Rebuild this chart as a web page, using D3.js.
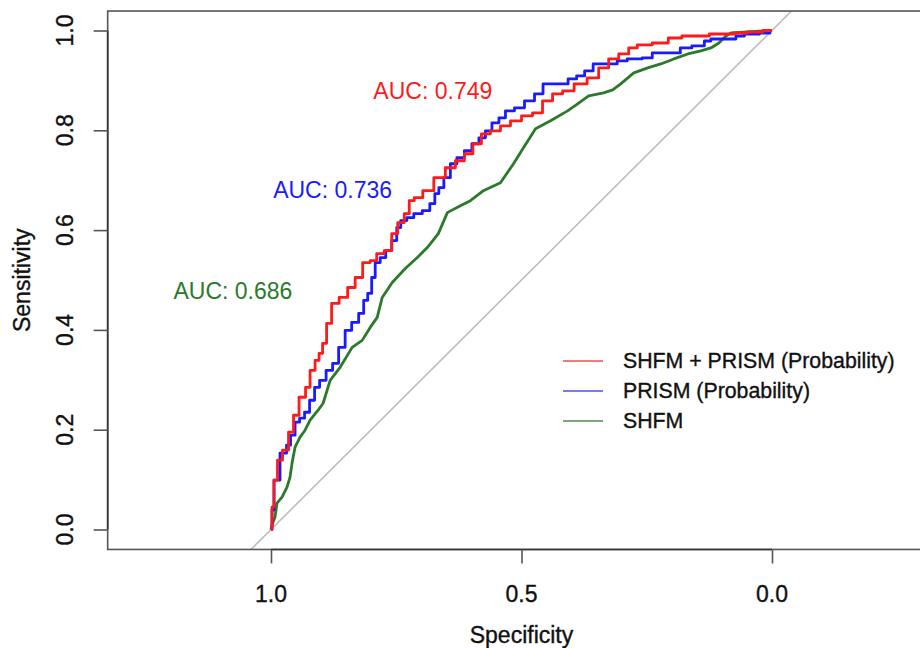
<!DOCTYPE html>
<html>
<head>
<meta charset="utf-8">
<script src="https://cdn.jsdelivr.net/npm/d3@7"></script>
<style>
  html, body { margin: 0; padding: 0; background: #fff; }
  svg { display: block; font-family: "Liberation Sans", Arial, sans-serif; }
</style>
</head>
<body>
<svg id="chart" width="920" height="648"></svg>
<script>
// ---- Data (specificity, sensitivity) ----
const seriesNames = ["SHFM + PRISM (Probability)", "PRISM (Probability)", "SHFM"];
const seriesColors = ["#ff1a1a", "#1a1aff", "#2b7a2b"];
const legendColors = ["#f27a7a", "#7a7af2", "#7aa87a"];

const redSpec = [1.000,0.996,0.992,0.982,0.972,0.958,0.952,0.936,0.926,0.918,0.906,0.902,0.892,0.886,0.872,0.856,0.838,0.826,0.808,0.796,0.782,0.766,0.752,0.742,0.726,0.722,0.706,0.688,0.662,0.642,0.622,0.606,0.588,0.572,0.552,0.532,0.512,0.488,0.468,0.448,0.428,0.408,0.382,0.356,0.336,0.316,0.296,0.276,0.262,0.216,0.198,0.162,0.088,0.062,0.036,0.000];
const redSens = [0.000,0.045,0.099,0.139,0.159,0.195,0.229,0.265,0.285,0.319,0.339,0.353,0.373,0.413,0.453,0.465,0.485,0.505,0.535,0.539,0.553,0.559,0.593,0.615,0.633,0.659,0.665,0.679,0.705,0.725,0.739,0.753,0.773,0.793,0.799,0.809,0.819,0.829,0.835,0.859,0.873,0.879,0.893,0.905,0.925,0.943,0.953,0.965,0.971,0.975,0.985,0.989,0.993,0.995,0.997,1.000];

const blueSpec = [1.000,0.996,0.992,0.972,0.966,0.956,0.948,0.938,0.928,0.918,0.908,0.898,0.882,0.872,0.858,0.846,0.832,0.818,0.812,0.802,0.796,0.788,0.776,0.766,0.752,0.746,0.736,0.722,0.708,0.688,0.678,0.668,0.662,0.648,0.636,0.622,0.606,0.592,0.578,0.566,0.552,0.538,0.526,0.502,0.486,0.462,0.452,0.416,0.398,0.382,0.366,0.348,0.316,0.302,0.276,0.242,0.236,0.188,0.178,0.142,0.128,0.116,0.076,0.068,0.042,0.008,0.000];
const blueSens = [0.000,0.039,0.099,0.153,0.169,0.189,0.215,0.223,0.235,0.259,0.285,0.299,0.319,0.333,0.365,0.399,0.415,0.433,0.459,0.473,0.505,0.535,0.545,0.559,0.579,0.605,0.619,0.625,0.633,0.639,0.653,0.673,0.685,0.705,0.733,0.745,0.759,0.773,0.785,0.799,0.815,0.825,0.839,0.845,0.859,0.873,0.893,0.893,0.903,0.909,0.919,0.933,0.933,0.939,0.943,0.945,0.955,0.955,0.965,0.969,0.979,0.983,0.983,0.989,0.993,0.995,1.000];

const greenSpec = [1.000,0.998,0.992,0.988,0.978,0.968,0.962,0.958,0.952,0.942,0.932,0.922,0.906,0.896,0.888,0.882,0.862,0.838,0.818,0.802,0.788,0.778,0.758,0.732,0.708,0.688,0.666,0.648,0.622,0.602,0.576,0.542,0.516,0.496,0.472,0.442,0.408,0.388,0.366,0.336,0.318,0.302,0.276,0.248,0.222,0.196,0.168,0.142,0.122,0.106,0.092,0.082,0.000];
const greenSens = [0.000,0.009,0.025,0.053,0.065,0.085,0.105,0.133,0.165,0.185,0.199,0.219,0.239,0.253,0.279,0.299,0.325,0.365,0.379,0.405,0.425,0.465,0.495,0.523,0.545,0.565,0.593,0.635,0.649,0.659,0.679,0.695,0.733,0.765,0.803,0.819,0.839,0.853,0.869,0.875,0.881,0.893,0.915,0.925,0.933,0.943,0.953,0.959,0.965,0.975,0.989,0.995,1.000];

const aucTexts = ["AUC: 0.749", "AUC: 0.736", "AUC: 0.686"];
const aucSpec = [0.677, 0.877, 1.076];
const aucSens = [0.880, 0.681, 0.479];

const xTicks = [1.0, 0.5, 0.0];
const xTickLabels = ["1.0", "0.5", "0.0"];
const yTicks = [0.0, 0.2, 0.4, 0.6, 0.8, 1.0];
const yTickLabels = ["0.0", "0.2", "0.4", "0.6", "0.8", "1.0"];

// ---- Layout ----
const svg = d3.select("#chart");
const x = d3.scaleLinear().domain([1, 0]).range([271, 772]);
const y = d3.scaleLinear().domain([0, 1]).range([529.5, 30.5]);
const xLim = [1.326, -0.326];
const yLim = [-0.04, 1.039];

const boxL = x(xLim[0]), boxR = x(xLim[1]), boxT = y(yLim[1]), boxB = y(yLim[0]);

svg.append("defs").append("clipPath").attr("id", "clip")
  .append("rect").attr("x", boxL).attr("y", boxT)
  .attr("width", boxR - boxL).attr("height", boxB - boxT);

// diagonal reference line
svg.append("line")
  .attr("clip-path", "url(#clip)")
  .attr("x1", x(1 - yLim[0])).attr("y1", y(yLim[0]))
  .attr("x2", x(1 - yLim[1])).attr("y2", y(yLim[1]))
  .attr("stroke", "#bdbdbd").attr("stroke-width", 1.6);

// box
svg.append("rect")
  .attr("x", boxL).attr("y", boxT)
  .attr("width", boxR - boxL).attr("height", boxB - boxT)
  .attr("fill", "none").attr("stroke", "#555").attr("stroke-width", 1.6);

// axes
const xAxis = svg.append("g").attr("transform", `translate(0,${boxB})`)
  .call(d3.axisBottom(x).tickValues(xTicks).tickSize(14).tickFormat(""));
const yAxis = svg.append("g").attr("transform", `translate(${boxL},0)`)
  .call(d3.axisLeft(y).tickValues(yTicks).tickSize(14).tickFormat(""));
[xAxis, yAxis].forEach(g => {
  g.select(".domain").attr("stroke", "#333").attr("stroke-width", 1.6);
  g.selectAll(".tick line").attr("stroke", "#555").attr("stroke-width", 1.6);
});
xAxis.select(".domain").attr("d", `M${x(xTicks[0])},0H${x(xTicks[xTicks.length-1])}`);
yAxis.select(".domain").attr("d", `M0,${y(yTicks[0])}V${y(yTicks[yTicks.length-1])}`);

const txt = sel => sel.attr("fill", "#111").attr("stroke", "#111").attr("stroke-width", 0.35);

// tick labels
svg.selectAll(".xlab").data(xTicks).enter().append("text")
  .attr("x", d => x(d)).attr("y", 602)
  .attr("text-anchor", "middle").attr("font-size", 23).call(txt)
  .text((d, i) => xTickLabels[i]);
svg.selectAll(".ylab").data(yTicks).enter().append("text")
  .attr("transform", d => `translate(73,${y(d)}) rotate(-90)`)
  .attr("text-anchor", "middle").attr("font-size", 23).call(txt)
  .text((d, i) => yTickLabels[i]);

// axis titles
svg.append("text").attr("x", x(0.5)).attr("y", 643)
  .attr("text-anchor", "middle").attr("font-size", 23).call(txt)
  .text("Specificity");
svg.append("text").attr("transform", `translate(30,${(boxT + boxB) / 2}) rotate(-90)`)
  .attr("text-anchor", "middle").attr("font-size", 23).call(txt)
  .text("Sensitivity");

// curves
const curves = [
  redSpec.map((s, i) => [s, redSens[i]]),
  blueSpec.map((s, i) => [s, blueSens[i]]),
  greenSpec.map((s, i) => [s, greenSens[i]])
];
const stepLine = d3.line().x(d => x(d[0])).y(d => y(d[1])).curve(d3.curveStep);
const smoothLine = d3.line().x(d => x(d[0])).y(d => y(d[1]));
[2, 1, 0].forEach(k => {
  svg.append("path").datum(curves[k])
    .attr("clip-path", "url(#clip)")
    .attr("d", k === 2 ? smoothLine : stepLine).attr("fill", "none")
    .attr("stroke", seriesColors[k]).attr("stroke-width", 2.8)
    .attr("stroke-linejoin", "round");
});

// AUC labels
aucTexts.forEach((t, i) => {
  svg.append("text").attr("x", x(aucSpec[i])).attr("y", y(aucSens[i]))
    .attr("dy", "0.36em").attr("text-anchor", "middle")
    .attr("font-size", 23).attr("fill", seriesColors[i])
    .text(t);
});

// legend
const legY0 = 361, legDy = 30;
seriesNames.forEach((n, i) => {
  const ly = legY0 + i * legDy;
  svg.append("line").attr("x1", 563).attr("x2", 603).attr("y1", ly).attr("y2", ly)
    .attr("stroke", legendColors[i]).attr("stroke-width", 2.2);
  svg.append("text").attr("x", 623).attr("y", ly).attr("dy", "0.32em")
    .attr("font-size", 21.3).call(txt).text(n);
});
</script>
</body>
</html>
